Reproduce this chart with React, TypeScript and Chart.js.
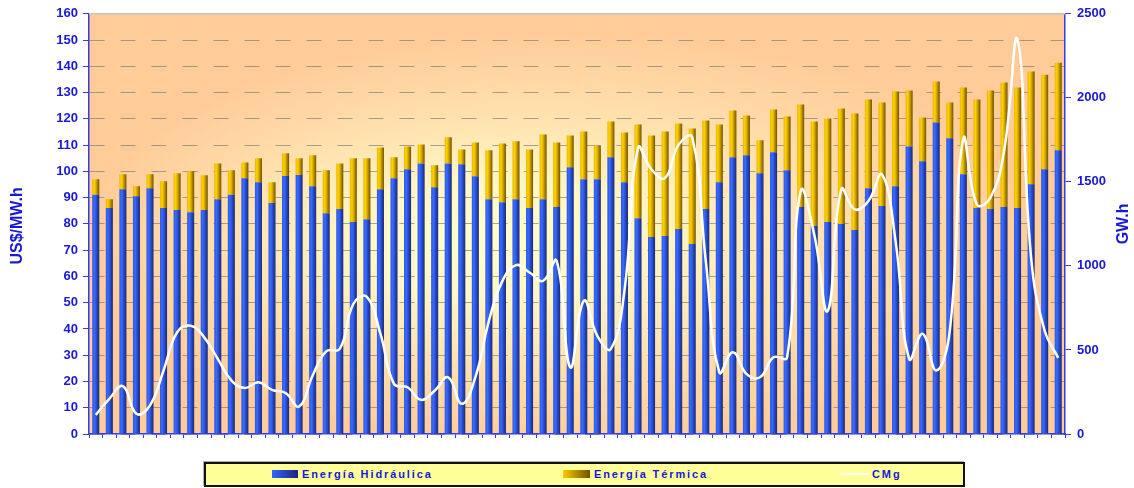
import React, { useEffect, useRef } from 'react';
import { Chart, registerables } from 'chart.js';

Chart.register(...registerables);

// 72 monthly periods
const PERIODS: string[] = Array.from({ length: 72 }, (_, i) => `${i + 1}`);

// Energía Hidráulica (GW.h)
const HYDRO: number[] = [
  1423, 1344, 1456, 1415, 1462, 1344, 1332, 1320, 1332, 1397,
  1423, 1522, 1498, 1375, 1535, 1541, 1474, 1314, 1338, 1261,
  1278, 1456, 1522, 1575, 1610, 1468, 1610, 1605, 1533, 1397,
  1379, 1397, 1344, 1397, 1350, 1587, 1516, 1516, 1646, 1498,
  1284, 1172, 1178, 1219, 1130, 1338, 1498, 1646, 1658, 1551,
  1676, 1569, 1350, 1237, 1261, 1249, 1213, 1462, 1356, 1474,
  1711, 1622, 1853, 1759, 1545, 1344, 1338, 1350, 1344, 1486,
  1575, 1688,
];

// Energía Térmica (GW.h)
const THERMAL: number[] = [
  93, 53, 89, 59, 83, 160, 219, 243, 207, 213,
  146, 94, 142, 123, 135, 99, 184, 255, 272, 379,
  362, 249, 124, 136, 113, 131, 155, 88, 202, 291,
  350, 344, 349, 385, 385, 189, 284, 201, 213, 296,
  558, 604, 622, 629, 688, 527, 344, 279, 237, 196,
  255, 320, 610, 622, 616, 688, 694, 528, 616, 563,
  332, 261, 244, 213, 516, 646, 705, 741, 717, 670,
  563, 521,
];

// CMg (US$/MW.h)
const CMG: number[] = [
  7.3, 13.4, 18.2, 7.7, 10.9, 24.2, 38.7, 41.2, 36.8, 28.6,
  20.4, 17.5, 19.7, 16.8, 15.6, 10.5, 22.3, 31.5, 32.4, 49.5,
  52.2, 38.1, 19.1, 17.8, 13.0, 16.5, 21.6, 11.5, 21.6, 43.1,
  58.3, 64.3, 61.5, 58.3, 65.9, 25.4, 50.7, 37.4, 32.4, 54.5,
  108.9, 100.7, 97.5, 110.2, 113.0, 65.9, 23.5, 31.1, 22.9, 21.6,
  29.2, 29.2, 92.5, 76.0, 46.9, 93.1, 85.5, 88.7, 98.8, 73.5,
  28.6, 38.1, 24.2, 39.3, 112.4, 87.4, 90.0, 107.6, 150.0, 67.2,
  39.3, 29.0,
];

const LEFT_TICKS = { min: 0, max: 160, step: 10 };
const RIGHT_TICKS = { min: 0, max: 2500, step: 500 };

const BLUE_TEXT = '#1818D8';
const AXIS_BLUE = '#3838F0';
const FONT = "'Liberation Sans', Arial, sans-serif";
const BAR_PCT = 0.52;

const HYDRO_STOPS: [number, string][] = [
  [0, '#2855E8'], [0.3, '#3A6CFF'], [0.55, '#2A52D8'], [1, '#1A2878'],
];
const THERMAL_STOPS: [number, string][] = [
  [0, '#E8B800'], [0.3, '#FFD200'], [0.55, '#D8A800'], [1, '#6E5200'],
];

function barGradient(c: any, stops: [number, string][]) {
  const chart = c.chart;
  const xs = chart.scales && chart.scales.x;
  if (!xs || c.type !== 'data' || !chart.chartArea) return stops[1][1];
  const cx = xs.getPixelForValue(c.dataIndex);
  const w = (xs.width / PERIODS.length) * BAR_PCT;
  const g = chart.ctx.createLinearGradient(cx - w / 2, 0, cx + w / 2, 0);
  stops.forEach(([o, col]) => g.addColorStop(o, col));
  return g;
}

const decoPlugin = {
  id: 'deco',
  beforeDraw(chart: any) {
    const { ctx, chartArea: a } = chart;
    if (!a) return;
    ctx.save();
    ctx.beginPath();
    ctx.rect(a.left, a.top, a.right - a.left, a.bottom - a.top);
    ctx.clip();
    const cy = 240;
    const R = 480;
    const sy = 205 / R;
    ctx.translate(0, cy);
    ctx.scale(1, sy);
    const g = ctx.createRadialGradient(465, 0, 0, 565, 0, R);
    g.addColorStop(0, '#FFFFCC');
    g.addColorStop(0.3, '#FFF6C4');
    g.addColorStop(0.7, '#FFDCA8');
    g.addColorStop(1, '#FFCC99');
    ctx.fillStyle = '#FFCC99';
    ctx.fillRect(-3000, -3000, 6000, 6000);
    ctx.fillStyle = g;
    ctx.fillRect(-3000, -3000, 6000, 6000);
    ctx.restore();
  },
  beforeDatasetsDraw(chart: any) {
    const { ctx, chartArea: a } = chart;
    ctx.save();
    ctx.strokeStyle = '#C4C4C4';
    ctx.lineWidth = 1.5;
    ctx.beginPath();
    ctx.moveTo(a.left, a.top);
    ctx.lineTo(a.right, a.top);
    ctx.stroke();
    ctx.restore();
  },
  afterDraw(chart: any) {
    const { ctx, chartArea: a } = chart;
    const midY = (a.top + a.bottom) / 2;
    ctx.save();
    ctx.fillStyle = BLUE_TEXT;
    ctx.font = `bold 16px ${FONT}`;
    ctx.textAlign = 'center';
    ctx.textBaseline = 'middle';
    ctx.translate(17.5, midY + 2);
    ctx.rotate(-Math.PI / 2);
    ctx.fillText('US$/MW.h', 0, 0);
    ctx.restore();
    ctx.save();
    ctx.fillStyle = BLUE_TEXT;
    ctx.font = `bold 16px ${FONT}`;
    ctx.textAlign = 'center';
    ctx.textBaseline = 'middle';
    ctx.translate(1124, midY);
    ctx.rotate(-Math.PI / 2);
    ctx.fillText('GW.h', 0, 0);
    ctx.restore();
  },
};

export default function App() {
  const ref = useRef<HTMLCanvasElement>(null);

  useEffect(() => {
    if (!ref.current) return;
    const chart = new Chart(ref.current, {
      type: 'bar',
      data: {
        labels: PERIODS,
        datasets: [
          {
            type: 'line',
            label: 'CMg',
            data: CMG,
            yAxisID: 'y',
            borderColor: '#FFFFFF',
            backgroundColor: '#FFFFFF',
            borderWidth: 2.5,
            pointRadius: 0,
            tension: 0.45,
            fill: false,
            order: 0,
          } as any,
          {
            type: 'bar',
            label: 'Energía Hidráulica',
            data: HYDRO,
            yAxisID: 'y2',
            stack: 's',
            backgroundColor: (c: any) => barGradient(c, HYDRO_STOPS),
            borderWidth: 0,
            barPercentage: BAR_PCT,
            categoryPercentage: 1,
            order: 1,
          },
          {
            type: 'bar',
            label: 'Energía Térmica',
            data: THERMAL,
            yAxisID: 'y2',
            stack: 's',
            backgroundColor: (c: any) => barGradient(c, THERMAL_STOPS),
            borderWidth: 0,
            barPercentage: BAR_PCT,
            categoryPercentage: 1,
            order: 1,
          },
        ],
      },
      options: {
        responsive: false,
        animation: false,
        layout: { padding: { top: 12, left: 0, right: 0, bottom: 0 } },
        plugins: {
          legend: { display: false },
          tooltip: { enabled: false },
        },
        scales: {
          x: {
            type: 'category',
            stacked: true,
            offset: true,
            ticks: { display: false },
            grid: {
              display: true,
              drawOnChartArea: false,
              drawTicks: true,
              tickLength: 4,
              tickColor: AXIS_BLUE,
              tickWidth: 1,
              offset: true,
            },
            border: { display: true, color: AXIS_BLUE, width: 1.5 },
            afterFit: (s: any) => { s.height = 16; },
          },
          y: {
            position: 'left',
            min: LEFT_TICKS.min,
            max: LEFT_TICKS.max,
            ticks: {
              stepSize: LEFT_TICKS.step,
              color: BLUE_TEXT,
              font: { family: FONT, size: 13, weight: 'bold' },
              padding: 5,
              callback: (v: any) => String(v),
            },
            grid: {
              color: 'rgba(120,120,120,0.65)',
              lineWidth: 1,
              tickLength: 6,
              tickColor: AXIS_BLUE,
              tickWidth: 1,
            },
            border: { display: true, color: AXIS_BLUE, width: 1.5, dash: [15, 16] },
            afterFit: (s: any) => { s.width = 89; },
          },
          y2: {
            position: 'right',
            stacked: true,
            min: RIGHT_TICKS.min,
            max: RIGHT_TICKS.max,
            ticks: {
              stepSize: RIGHT_TICKS.step,
              color: BLUE_TEXT,
              font: { family: FONT, size: 13, weight: 'bold' },
              padding: 6,
              callback: (v: any) => String(v),
            },
            grid: {
              drawOnChartArea: false,
              tickLength: 6,
              tickColor: AXIS_BLUE,
              tickWidth: 1,
            },
            border: { display: true, color: AXIS_BLUE, width: 1.5 },
            afterFit: (s: any) => { s.width = 69; },
          },
        },
      } as any,
      plugins: [decoPlugin],
    });
    return () => chart.destroy();
  }, []);

  const legendText: React.CSSProperties = {
    position: 'absolute',
    top: 3,
    fontFamily: FONT,
    fontWeight: 'bold',
    fontSize: 11,
    letterSpacing: '1.9px',
    color: BLUE_TEXT,
    lineHeight: '15px',
    whiteSpace: 'nowrap',
  };

  return (
    <div style={{ position: 'absolute', left: 0, top: 0, width: 1134, height: 488, background: '#FFFFFF' }}>
      <canvas ref={ref} width={1134} height={450} style={{ position: 'absolute', left: 0, top: 0, width: 1134, height: 450 }} />
      <div
        style={{
          position: 'absolute',
          left: 204,
          top: 462,
          width: 761,
          height: 25,
          boxSizing: 'border-box',
          border: '2px solid #111111',
          background: '#FFFF99',
          boxShadow: '-1px -1px 0 #B0B0B0',
        }}
      >
        <div style={{ position: 'absolute', left: 66, top: 6, width: 26, height: 8, background: 'linear-gradient(to right, #3366FF, #1A237E)' }} />
        <div style={{ ...legendText, left: 96 }}>Energía Hidráulica</div>
        <div style={{ position: 'absolute', left: 357, top: 6, width: 27, height: 8, background: 'linear-gradient(to right, #FFCC00, #6E5200)' }} />
        <div style={{ ...legendText, left: 388 }}>Energía Térmica</div>
        <div style={{ position: 'absolute', left: 634, top: 9, width: 29, height: 2, background: '#FFFFFF' }} />
        <div style={{ ...legendText, left: 666 }}>CMg</div>
      </div>
    </div>
  );
}
